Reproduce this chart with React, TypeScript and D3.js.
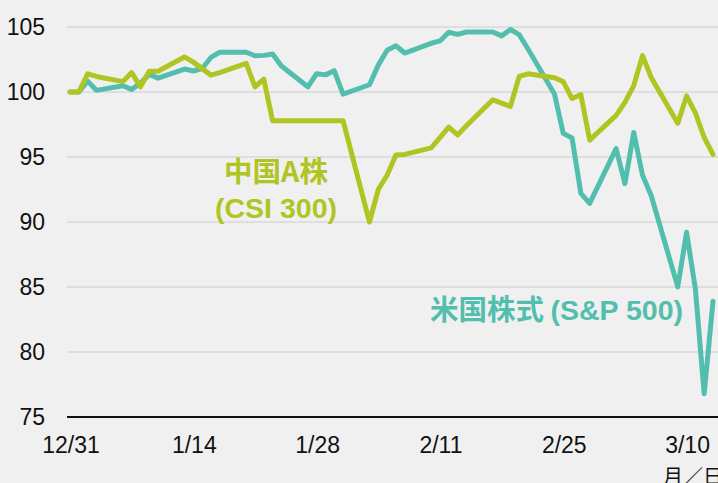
import React from "react";
import * as d3 from "d3";

const dates = [
  "2019-12-31", "2020-01-01", "2020-01-02", "2020-01-03", "2020-01-06", "2020-01-07", "2020-01-08", "2020-01-09", "2020-01-10",
  "2020-01-13", "2020-01-14", "2020-01-15", "2020-01-16", "2020-01-17", "2020-01-20", "2020-01-21", "2020-01-22", "2020-01-23",
  "2020-01-24", "2020-01-27", "2020-01-28", "2020-01-29", "2020-01-30", "2020-01-31", "2020-02-03", "2020-02-04", "2020-02-05",
  "2020-02-06", "2020-02-07", "2020-02-10", "2020-02-11", "2020-02-12", "2020-02-13", "2020-02-14", "2020-02-17", "2020-02-18",
  "2020-02-19", "2020-02-20", "2020-02-21", "2020-02-24", "2020-02-25", "2020-02-26", "2020-02-27", "2020-02-28", "2020-03-02",
  "2020-03-03", "2020-03-04", "2020-03-05", "2020-03-06", "2020-03-09", "2020-03-10", "2020-03-11", "2020-03-12", "2020-03-13",
];

const csi300 = [
  100, 100, 101.4, 101.2, 100.8, 101.5, 100.4, 101.6, 101.6,
  102.7, 102.3, 101.8, 101.3, 101.5, 102.2, 100.4, 101.0, 97.8,
  97.8, 97.8, 97.8, 97.8, 97.8, 97.8, 90.0, 92.5, 93.6,
  95.15, 95.2, 95.7, 96.5, 97.3, 96.7, 97.4, 99.4, 99.15,
  98.9, 101.2, 101.4, 101.1, 100.8, 99.5, 99.8, 96.3, 98.2,
  99.2, 100.5, 102.8, 101.1, 97.6, 99.7, 98.4, 96.5, 95.2,
];

const sp500 = [
  100, 100, 100.84, 100.13, 100.48, 100.2, 100.69, 101.36, 101.07,
  101.77, 101.62, 101.81, 102.66, 103.06, 103.06, 102.79, 102.82, 102.93,
  102.0, 100.4, 101.41, 101.32, 101.64, 99.84, 100.56, 102.07, 103.22,
  103.56, 103.0, 103.75, 103.93, 104.6, 104.43, 104.62, 104.62, 104.32,
  104.81, 104.41, 103.31, 99.85, 96.82, 96.46, 92.2, 91.44, 95.65,
  92.96, 96.88, 93.6, 92.0, 85.01, 89.21, 84.85, 76.78, 83.91,
];

const yTicks = [75, 80, 85, 90, 95, 100, 105];
const xTickDates = ["2019-12-31", "2020-01-14", "2020-01-28", "2020-02-11", "2020-02-25", "2020-03-10"];
const xTickLabels = ["12/31", "1/14", "1/28", "2/11", "2/25", "3/10"];

const W = 718;
const H = 483;
const CSI_COLOR = "#b0c522";
const SP_COLOR = "#52bfae";
const FONT = "'Liberation Sans', Arial, sans-serif";
const CJK = "'Noto Sans CJK JP', 'Liberation Sans', sans-serif";

export default function App() {
  const parse = d3.utcParse("%Y-%m-%d");
  const x = d3
    .scaleUtc()
    .domain([parse("2019-12-31")!, parse("2020-03-13")!])
    .range([70, 713]);
  const y = d3.scaleLinear().domain([75, 107.08]).range([417, 0]);

  const csiData = dates.map((d, i) => ({ d: parse(d)!, v: csi300[i] }));
  const spData = dates.map((d, i) => ({ d: parse(d)!, v: sp500[i] }));
  const line = d3
    .line<{ d: Date; v: number }>()
    .x((p) => x(p.d))
    .y((p) => y(p.v));

  return (
    <svg width={W} height={H} style={{ position: "absolute", left: 0, top: 0 }}>
      <rect x={0} y={0} width={W} height={H} fill="#f0f0f0" />
      {yTicks.map((t) => (
        <g key={t}>
          {t !== 75 && (
            <line x1={67} x2={W} y1={y(t)} y2={y(t)} stroke="#d9d9d9" strokeWidth={1.5} />
          )}
          <text
            x={45}
            y={y(t)}
            dy="0.36em"
            textAnchor="end"
            fontFamily={FONT}
            fontSize={23}
            fill="#111"
          >
            {t}
          </text>
        </g>
      ))}
      <line x1={67} x2={W} y1={y(75)} y2={y(75)} stroke="#111" strokeWidth={2} />
      {xTickDates.map((d, i) => (
        <text
          key={d}
          x={x(parse(d)!) + 1}
          y={453}
          textAnchor="middle"
          fontFamily={FONT}
          fontSize={23}
          fill="#111"
        >
          {xTickLabels[i]}
        </text>
      ))}
      <text x={663} y={484} fontFamily={CJK} fontSize={20} fill="#111">
        月／日
      </text>
      <path d={line(spData)!} fill="none" stroke={SP_COLOR} strokeWidth={5} strokeLinejoin="round" strokeLinecap="round" />
      <path d={line(csiData)!} fill="none" stroke={CSI_COLOR} strokeWidth={5} strokeLinejoin="round" strokeLinecap="round" />
      <text x={276} y={182} textAnchor="middle" fontFamily={CJK} fontWeight="bold" fontSize={28.5} fill={CSI_COLOR}>
        中国A株
      </text>
      <text x={276} y={218} textAnchor="middle" fontFamily={FONT} fontWeight="bold" fontSize={28.5} fill={CSI_COLOR}>
        (CSI 300)
      </text>
      <text x={430} y={320} textAnchor="start" fontFamily={CJK} fontWeight="bold" fontSize={28.5} fill={SP_COLOR}>
        米国株式 <tspan fontFamily={FONT}>(S&amp;P 500)</tspan>
      </text>
    </svg>
  );
}
